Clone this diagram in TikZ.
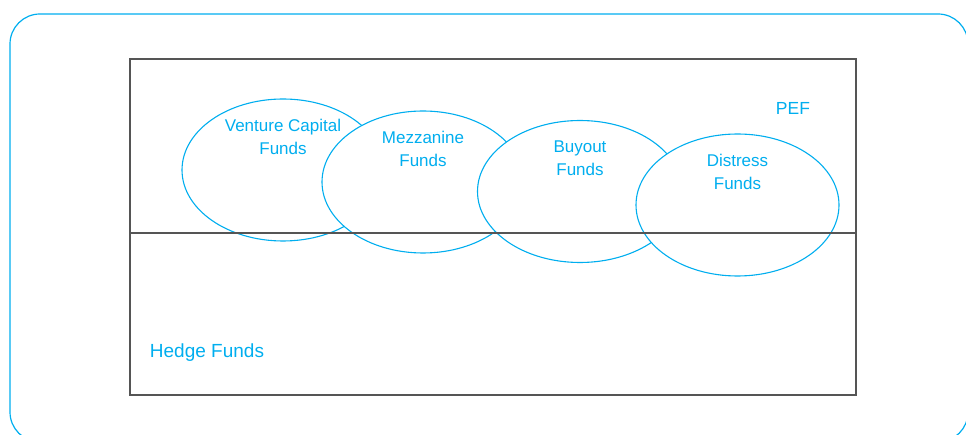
\documentclass[tikz,border=0pt]{standalone}
\usepackage{fontspec}
\setmainfont{Liberation Sans}
\usetikzlibrary{shapes.geometric}
\definecolor{fundblue}{RGB}{0,174,239}
\definecolor{framegray}{RGB}{85,85,85}

\begin{document}
\begin{tikzpicture}[x=1pt, y=-1pt,
    fund/.style = {draw=fundblue, fill=white, line width=1.1pt, ellipse, inner sep=0pt,
                   minimum width=202pt, minimum height=142pt},
    tag/.style = {text=fundblue, font=\fontsize{17}{23}\selectfont,
                  align=center, inner sep=0pt}]

    \useasboundingbox (0,0) rectangle (966,435);
    \clip (0,0) rectangle (966,435);

    % outer panel
    \draw[fundblue, line width=1.2pt, rounded corners=30pt] (10,14) rectangle (968,442);

    % PEF (top) and hedge funds (bottom)
    \draw[framegray, line width=1.5pt] (130,59) rectangle (856,395);

    % the four fund types, each one laid over the one before
    \node[fund] (1) at (283,170) {};
    \node[fund] (2) at (423,182) {};
    \node[fund, minimum width=205pt] (3) at (580,191.5) {};
    \node[fund, minimum width=203pt] (4) at (737.5,205) {};

    \coordinate (sl) at (130,233);
    \coordinate (sr) at (856,233);
    \draw[framegray, line width=1.5pt] (sl) -- (sr);

    \node[tag, font=\fontsize{17.5}{21}\selectfont] (pef) at (793,108) {PEF};
    \node[tag, font=\fontsize{19}{23}\selectfont] (hedge) at (207,353) {Hedge Funds};

    \node[tag] (1t) at ([yshift=33pt]1.center) {Venture Capital\\Funds};
    \node[tag] (2t) at ([yshift=33pt]2.center) {Mezzanine\\Funds};
    \node[tag] (3t) at ([yshift=33pt]3.center) {Buyout\\Funds};
    \node[tag] (4t) at ([yshift=33pt]4.center) {Distress\\Funds};
\end{tikzpicture}
\end{document}
